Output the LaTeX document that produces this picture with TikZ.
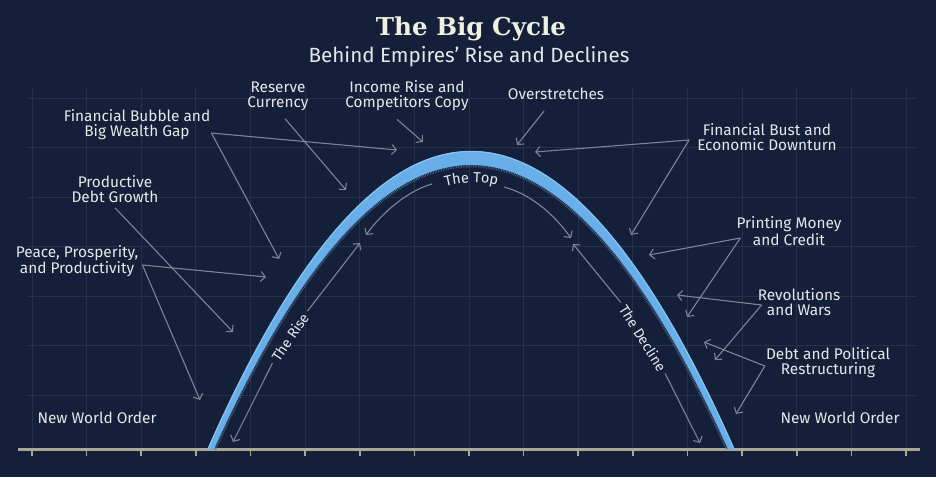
\documentclass[tikz,border=0pt]{standalone}
\usepackage{fontspec}
\setmainfont{Fira Sans}
\newfontfamily\titlefont{DejaVu Serif}
\usepackage{tikz}
\usetikzlibrary{arrows.meta, decorations.text}
\definecolor{navy}{HTML}{142039}
\definecolor{gridline}{HTML}{243149}
\definecolor{archblue}{HTML}{68AFEA}
\definecolor{archedge}{HTML}{86C2F0}
\definecolor{hatch}{HTML}{4A6388}
\definecolor{pointergray}{HTML}{7C8496}
\definecolor{labelwhite}{HTML}{E4E8EC}
\definecolor{cream}{HTML}{EEF0E0}
\definecolor{axisgray}{HTML}{A7A996}

\begin{document}
\begin{tikzpicture}[x=1pt, y=-1pt,
    cause/.style={text=labelwhite, align=center, inner sep=1pt,
      font=\fontsize{15.4}{15}\selectfont},
    phase/.style={text=labelwhite, inner sep=4pt,
      font=\fontsize{14.2}{15}\selectfont},
    pointer/.style={-{Straight Barb[length=4.5pt, width=10pt]},
      draw=pointergray, line width=1.1pt},
    gridrule/.style={draw=gridline, line width=0.8pt},
]
\fill[navy] (0,0) rectangle (936,477);
\useasboundingbox (0,0) rectangle (936,477);
% grid and time axis
\foreach \i in {0,...,16}
  \draw[gridrule] ({32+54.625*\i},88) -- ({32+54.625*\i},449);
\foreach \j in {0,...,6}
  \draw[gridrule] (27,{98+49.5*\j}) -- (916,{98+49.5*\j});
\draw[axisgray, line width=3pt] (18,449) -- (920,449);
\foreach \i in {0,...,16}
  \draw[axisgray, line width=1.6pt] ({32+54.625*\i},449) -- ({32+54.625*\i},456);
% the arch: two parabolas, the inner one 14 lower
\draw[hatch, line width=5pt, dash pattern=on 0.7pt off 1pt]
  (214,449) .. controls (385.3,70.3) and (556.7,70.3) .. (728,449);
\fill[archblue]
  (207.5,449) .. controls (383.2,51.7) and (558.8,51.7) .. (734.5,449)
  -- (728,449) .. controls (556.7,70.3) and (385.3,70.3) .. (214,449) -- cycle;
\draw[archedge, line width=1.2pt]
  (208,449) .. controls (383.2,52.2) and (558.8,52.2) .. (734,449);
% title
\node[font=\titlefont\bfseries\fontsize{24.6}{30}\selectfont, text=cream, anchor=base]
  (title) at (471,35) {The Big Cycle};
\node[font=\fontsize{20.6}{24}\selectfont, text=labelwhite, anchor=base]
  (subtitle) at (469,62) {Behind Empires’ Rise and Declines};
% causes
\node[cause] (reserve) at (278,96) {Reserve\\Currency};
\node[cause] (income) at (407,96) {Income Rise and\\Competitors Copy};
\node[cause] (overstretch) at (556,94) {Overstretches};
\node[cause] (bubble) at (137,125) {Financial Bubble and\\Big Wealth Gap};
\node[cause] (debtgrowth) at (115,189) {Productive\\Debt Growth};
\node[cause] (peace) at (77,261) {Peace, Prosperity,\\and Productivity};
\node[cause] (nwoleft) at (97,418) {New World Order};
\node[cause] (nworight) at (840,418) {New World Order};
\node[cause] (bust) at (767,137) {Financial Bust and\\Economic Downturn};
\node[cause] (printing) at (789,231) {Printing Money\\and Credit};
\node[cause] (revolutions) at (799,302) {Revolutions\\and Wars};
\node[cause] (restructuring) at (828,363) {Debt and Political\\Restructuring};
% phases
\node[phase, rotate=56] (rise) at (290,337) {The Rise};
\node[phase, rotate=-58] (decline) at (643,338) {The Decline};
\path[decorate, decoration={text along path, text align=center,
    text={|\fontsize{14.5}{15}\selectfont|The Top}, text color=labelwhite}]
  (434,190) .. controls (457,181) and (485,180) .. (509,189);
% arrow tips
\coordinate (reserve-tip) at (346,190);
\coordinate (income-tip) at (423,142);
\coordinate (overstretch-tip) at (517,145);
\coordinate (bubble-tip-a) at (397,150);
\coordinate (bubble-tip-b) at (279,259);
\coordinate (debtgrowth-tip) at (233,332);
\coordinate (peace-tip-a) at (266,277);
\coordinate (peace-tip-b) at (200,400);
\coordinate (bust-tip-a) at (535,152);
\coordinate (bust-tip-b) at (631,235);
\coordinate (printing-tip-a) at (649,255);
\coordinate (printing-tip-b) at (687,317);
\coordinate (revolutions-tip-a) at (677,295);
\coordinate (revolutions-tip-b) at (715,360);
\coordinate (restructuring-tip-a) at (704,342);
\coordinate (restructuring-tip-b) at (736,414);
\coordinate (rise-low) at (233,442);
\coordinate (rise-high) at (360,243);
\coordinate (top-left) at (432,184);
\coordinate (top-left-tip) at (366,235);
\coordinate (top-right) at (504,187);
\coordinate (top-right-tip) at (571,238);
\coordinate (decline-high) at (573,244);
\coordinate (decline-low) at (700,443);
% pointers
\draw[pointer] ([xshift=7pt, yshift=-7pt]reserve.south) -- (reserve-tip);
\draw[pointer] ([xshift=-10pt, yshift=-7pt]income.south) -- (income-tip);
\draw[pointer] ([xshift=-12pt, yshift=-10pt]overstretch.south) -- (overstretch-tip);
\draw[pointer] ([yshift=-8pt]bubble.east) -- (bubble-tip-a);
\draw[pointer] ([yshift=-8pt]bubble.east) -- (bubble-tip-b);
\draw[pointer] ([yshift=-4pt]debtgrowth.south) -- (debtgrowth-tip);
\draw[pointer] ([xshift=3pt, yshift=-4pt]peace.east) -- (peace-tip-a);
\draw[pointer] ([xshift=3pt, yshift=-4pt]peace.east) -- (peace-tip-b);
\draw[pointer] ([xshift=-7pt, yshift=-3pt]bust.west) -- (bust-tip-a);
\draw[pointer] ([xshift=-7pt, yshift=-3pt]bust.west) -- (bust-tip-b);
\draw[pointer] ([xshift=5pt, yshift=-7pt]printing.west) -- (printing-tip-a);
\draw[pointer] ([xshift=5pt, yshift=-7pt]printing.west) -- (printing-tip-b);
\draw[pointer] ([xshift=5pt, yshift=-3pt]revolutions.west) -- (revolutions-tip-a);
\draw[pointer] ([xshift=5pt, yshift=-3pt]revolutions.west) -- (revolutions-tip-b);
\draw[pointer] ([yshift=-3pt]restructuring.west) -- (restructuring-tip-a);
\draw[pointer] ([yshift=-3pt]restructuring.west) -- (restructuring-tip-b);
\draw[pointer] (rise.west) -- (rise-low);
\draw[pointer] (rise.east) -- (rise-high);
\draw[pointer] (top-left) .. controls (410,190) and (384,210) .. (top-left-tip);
\draw[pointer] (top-right) .. controls (530,194) and (553,213) .. (top-right-tip);
\draw[pointer] (decline.west) -- (decline-high);
\draw[pointer] (decline.east) -- (decline-low);
\end{tikzpicture}
\end{document}
